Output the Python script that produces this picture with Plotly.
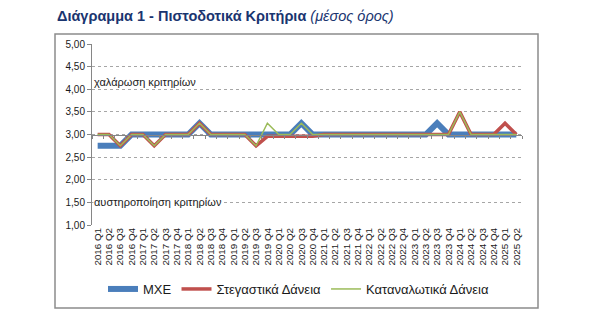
import plotly.graph_objects as go

quarters = ["2016 Q1", "2016 Q2", "2016 Q3", "2016 Q4", "2017 Q1", "2017 Q2", "2017 Q3", "2017 Q4",
            "2018 Q1", "2018 Q2", "2018 Q3", "2018 Q4", "2019 Q1", "2019 Q2", "2019 Q3", "2019 Q4",
            "2020 Q1", "2020 Q2", "2020 Q3", "2020 Q4", "2021 Q1", "2021 Q2", "2021 Q3", "2021 Q4",
            "2022 Q1", "2022 Q2", "2022 Q3", "2022 Q4", "2023 Q1", "2023 Q2", "2023 Q3", "2023 Q4",
            "2024 Q1", "2024 Q2", "2024 Q3", "2024 Q4", "2025 Q1", "2025 Q2"]

mxe = [2.75, 2.75, 2.75, 3.00, 3.00, 3.00, 3.00, 3.00, 3.00, 3.25,
       3.00, 3.00, 3.00, 3.00, 3.00, 3.00, 3.00, 3.00, 3.25, 3.00,
       3.00, 3.00, 3.00, 3.00, 3.00, 3.00, 3.00, 3.00, 3.00, 3.00,
       3.25, 3.00, 3.00, 3.00, 3.00, 3.00, 3.00, 3.00]

housing = [3.00, 3.00, 2.75, 3.00, 3.00, 2.75, 3.00, 3.00, 3.00, 3.25,
           3.00, 3.00, 3.00, 3.00, 2.75, 2.96, 2.96, 2.96, 2.96, 2.96,
           3.00, 3.00, 3.00, 3.00, 3.00, 3.00, 3.00, 3.00, 3.00, 3.00,
           3.00, 3.00, 3.50, 3.00, 3.00, 3.00, 3.25, 3.00]

consumer = [3.00, 3.00, 2.75, 3.00, 3.00, 2.75, 3.00, 3.00, 3.00, 3.25,
            3.00, 3.00, 3.00, 3.00, 2.75, 3.25, 3.00, 3.00, 3.25, 3.00,
            3.00, 3.00, 3.00, 3.00, 3.00, 3.00, 3.00, 3.00, 3.00, 3.00,
            3.00, 3.00, 3.50, 3.00, 3.00, 3.00, 3.00, 3.00]

series_names = ["ΜΧΕ", "Στεγαστικά Δάνεια", "Καταναλωτικά Δάνεια"]
series_colors = ["#4A7EBB", "#C0504D", "#9BBB59"]
series_widths = [6, 3.5, 1.5]

y_min, y_max, y_step = 1.0, 5.0, 0.5
axis_cross = 3.0

W, H = 593, 326
ML, MR, MT, MB = 92, 71, 44, 101
PW, PH = W - ML - MR, H - MT - MB


def px(x):
    return (x - ML) / PW


def py(y):
    return (H - MB - y) / PH


fig = go.Figure()
for vals, name, col, wd in zip([mxe, housing, consumer], series_names, series_colors, series_widths):
    fig.add_trace(go.Scatter(x=quarters, y=vals, name=name, mode="lines",
                             line=dict(color=col, width=wd)))

# helper trace for the horizontal axis crossing at 3,00
fig.add_trace(go.Scatter(x=quarters, y=[None] * len(quarters), xaxis="x2", showlegend=False,
                         hoverinfo="skip", mode="lines"))

fig.update_layout(
    width=W, height=H,
    margin=dict(l=ML, r=MR, t=MT, b=MB),
    paper_bgcolor="white", plot_bgcolor="white",
    separators=",.",
    font=dict(family="Liberation Sans, Arial, sans-serif", color="#1A1A1A"),
    xaxis=dict(type="category", showline=False, ticks="", showgrid=False, zeroline=False,
               tickmode="array", tickvals=quarters, ticktext=quarters,
               tickangle=-90, tickfont=dict(size=9.8, color="#1A1A1A"),
               range=[-0.5, len(quarters) - 0.5]),
    xaxis2=dict(type="category", overlaying="x", anchor="free",
                position=(axis_cross - y_min) / (y_max - y_min),
                showline=True, linecolor="#868686", linewidth=1,
                ticks="outside", ticklen=3, tickcolor="#868686", tickson="boundaries",
                tickmode="array", tickvals=quarters,
                showticklabels=False, showgrid=False, zeroline=False,
                range=[-0.5, len(quarters) - 0.5]),
    yaxis=dict(range=[y_min, y_max], dtick=y_step, tick0=y_min, tickformat=".2f",
               showline=True, linecolor="#868686", linewidth=1,
               ticks="outside", ticklen=4, tickcolor="#868686",
               showgrid=True, gridcolor="#A6A6A6", griddash="dot", gridwidth=1,
               zeroline=False, tickfont=dict(size=10, color="#1A1A1A")),
    legend=dict(orientation="h", x=px(103), y=py(289), xanchor="left", yanchor="middle",
                font=dict(size=13, color="#1A1A1A"), itemwidth=30, bgcolor="rgba(0,0,0,0)"),
    showlegend=True,
)

fig.add_shape(type="rect", xref="paper", yref="paper",
              x0=px(55), x1=px(538), y0=py(308), y1=py(34),
              line=dict(color="#8C8C8C", width=1.5), fillcolor="rgba(0,0,0,0)", layer="below")

fig.add_annotation(xref="paper", yref="paper", x=px(55), y=py(16), xanchor="left", yanchor="middle",
                   showarrow=False,
                   text="<b>Διάγραμμα 1 - Πιστοδοτικά Κριτήρια</b> <i>(μέσος όρος)</i>",
                   font=dict(family="Liberation Sans, Arial, sans-serif", size=14.5, color="#1A3570"))

fig.add_annotation(xref="paper", yref="y", x=0.002, y=4.0, xanchor="left", yanchor="bottom",
                   showarrow=False, text="χαλάρωση κριτηρίων",
                   font=dict(size=11, color="#1A1A1A"), borderpad=0)

fig.add_annotation(xref="paper", yref="y", x=0.002, y=1.5, xanchor="left", yanchor="middle",
                   showarrow=False, text="αυστηροποίηση κριτηρίων", bgcolor="white",
                   font=dict(size=11, color="#1A1A1A"), borderpad=0)

fig.write_html("out.html")
